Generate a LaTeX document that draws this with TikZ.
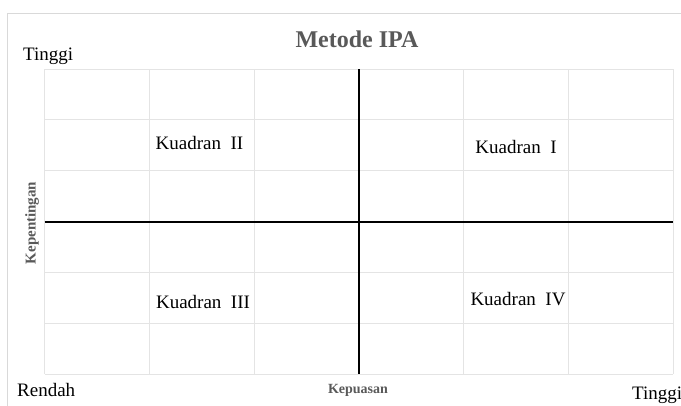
\documentclass[tikz,border=0pt]{standalone}
\usepackage{fontspec}
\setmainfont{Liberation Serif}
\usetikzlibrary{positioning}
\definecolor{gridgray}{HTML}{E4E4E4}
\definecolor{framegray}{HTML}{D9D9D9}
\definecolor{titlegray}{HTML}{595959}
\tikzset{
  plain_text/.style = {inner sep=0pt, font=\fontsize{19}{19}\selectfont},
  quad_label/.style = {plain_text, anchor=base},% label kuadran
  axis_title/.style = {inner sep=0pt, text=titlegray,
    font=\fontsize{14}{14}\selectfont\bfseries},% judul sumbu
  grid_line/.style = {draw=gridgray, line width=1pt},
  axis_line/.style = {draw=black, line width=2pt},
  frame_line/.style = {draw=framegray, line width=1.3pt}
}

\begin{document}
\begin{tikzpicture}[x=1pt, y=-1pt]
      \useasboundingbox (0,0) rectangle (681,405);
      \draw[frame_line] (7.5,420) -- (7.5,13.5) -- (700,13.5);
      % kisi
      \foreach \i in {0,...,6} {
        \draw[grid_line] (44.5+\i*104.75,69) -- (44.5+\i*104.75,374);
        \draw[grid_line] (44.5,69+\i*50.833) -- (673,69+\i*50.833);
      }
      \coordinate (top_mid) at (358.8,69);
      \coordinate (bottom_mid) at (358.8,374);
      \coordinate (left_mid) at (44.5,222);
      \coordinate (right_mid) at (673,222);
      \draw[axis_line] (left_mid) -- (right_mid);
      \draw[axis_line] (top_mid) -- (bottom_mid);
      \node [inner sep=0pt, anchor=base, text=titlegray,
        font=\fontsize{24}{24}\selectfont\bfseries] (title) at (357,47) {Metode IPA};
      \node [plain_text, anchor=base west] (high_y) at (23,60) {Tinggi};
      \node [quad_label] (quad_two) at (199.5,149) {Kuadran~~II};
      \node [quad_label] (quad_one) at (516,153) {Kuadran~~I};
      \node [quad_label] (quad_three) at (203,308) {Kuadran~~III};
      \node [quad_label] (quad_four) at (518,305) {Kuadran~~IV};
      \node [axis_title, rotate=90, font=\fontsize{15}{15}\selectfont\bfseries]
        (y_title) at (32,223) {Kepentingan};
      \node [plain_text, anchor=base west] (low_x) at (17,396) {Rendah};
      \node [axis_title, anchor=base] (x_title) at (358,393) {Kepuasan};
      \node [plain_text, anchor=base west] (high_x) at (632,399) {Tinggi};
    \end{tikzpicture}
\end{document}
